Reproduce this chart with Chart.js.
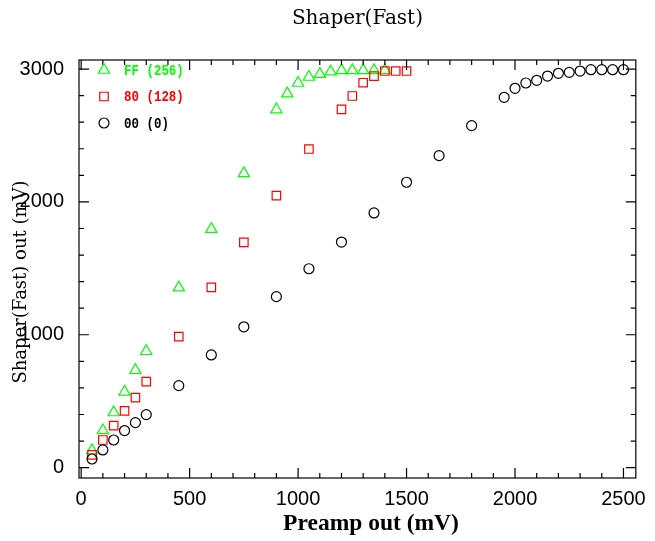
<!DOCTYPE html>
<html>
<head>
<meta charset="utf-8">
<script src="https://cdn.jsdelivr.net/npm/chart.js@4"></script>
<style>
  html, body { margin: 0; padding: 0; background: #fff; }
  #wrap { width: 655px; height: 541px; }
</style>
</head>
<body>
<div id="wrap"><canvas id="c" width="655" height="541"></canvas></div>
<script>
// values
const seriesNames = ['FF (256)', '80 (128)', '00 (0)'];
const seriesColors = ['#00ff00', '#ff0000', '#000000'];

const ffX = [50, 100, 150, 200, 250, 300, 450, 600, 750, 900, 950, 1000, 1050, 1100, 1150, 1200, 1250, 1300, 1350, 1400];
const ffY = [130, 280, 415, 570, 733, 876, 1355, 1795, 2215, 2695, 2815, 2895, 2940, 2962, 2980, 2990, 2990, 2990, 2990, 2990];

const r80X = [50, 100, 150, 200, 250, 300, 450, 600, 750, 900, 1050, 1200, 1250, 1300, 1350, 1400, 1450, 1500];
const r80Y = [96, 208, 316, 427, 527, 647, 986, 1357, 1696, 2047, 2398, 2697, 2797, 2897, 2947, 2985, 2985, 2985];

const c00X = [50, 100, 150, 200, 250, 300, 450, 600, 750, 900, 1050, 1200, 1350, 1500, 1650, 1800, 1950, 2000, 2050, 2100, 2150, 2200, 2250, 2300, 2350, 2400, 2450, 2500];
const c00Y = [65, 133, 208, 279, 339, 399, 617, 848, 1060, 1287, 1497, 1698, 1917, 2148, 2348, 2574, 2787, 2855, 2895, 2915, 2947, 2968, 2975, 2985, 2995, 2995, 2995, 2995];

const xTicks = [0, 500, 1000, 1500, 2000, 2500];
const yTicks = [0, 1000, 2000, 3000];

const toPoints = (xs, ys) => xs.map((x, i) => ({ x: x, y: ys[i] }));

// frame, inward ticks, titles and in-plot legend
const decorPlugin = {
  id: 'decor',
  afterDraw(chart) {
    const ctx = chart.ctx;
    const a = chart.chartArea;
    const xs = chart.scales.x;
    const ys = chart.scales.y;
    ctx.save();
    ctx.strokeStyle = '#000';
    ctx.lineWidth = 1.2;
    ctx.strokeRect(a.left, a.top, a.right - a.left, a.bottom - a.top);

    ctx.beginPath();
    for (let v = 0; v <= 2500; v += 100) {
      const px = xs.getPixelForValue(v);
      const len = v % 500 === 0 ? 10 : 5;
      ctx.moveTo(px, a.bottom); ctx.lineTo(px, a.bottom - len);
      ctx.moveTo(px, a.top); ctx.lineTo(px, a.top + len);
    }
    for (let v = 0; v <= 3000; v += 200) {
      const py = ys.getPixelForValue(v);
      const len = v % 1000 === 0 ? 10 : 5;
      ctx.moveTo(a.left, py); ctx.lineTo(a.left + len, py);
      ctx.moveTo(a.right, py); ctx.lineTo(a.right - len, py);
    }
    ctx.stroke();

    ctx.fillStyle = '#000';
    ctx.textAlign = 'center';
    ctx.textBaseline = 'middle';
    ctx.font = '20px "DejaVu Serif"';
    ctx.fillText('Shaper(Fast)', (a.left + a.right) / 2, 19);

    ctx.font = 'bold 23.5px "Liberation Serif"';
    ctx.fillText('Preamp out (mV)', 371, 524);

    ctx.save();
    ctx.translate(21, 282);
    ctx.rotate(-Math.PI / 2);
    ctx.font = '18px "DejaVu Serif"';
    ctx.fillText('Shaper(Fast) out (mV)', 0, 0);
    ctx.restore();

    // legend
    chart.data.datasets.forEach((ds, i) => {
      const y = a.top + 10 + i * 26.5;
      ctx.strokeStyle = ds.borderColor;
      ctx.fillStyle = 'rgba(0,0,0,0)';
      ctx.lineWidth = 1.2;
      Chart.helpers.drawPoint(ctx, {
        pointStyle: ds.pointStyle,
        radius: ds.pointRadius,
        borderWidth: 1.2
      }, a.left + 25, y);
      ctx.save();
      ctx.translate(a.left + 45, y + 1);
      ctx.scale(0.89, 1);
      ctx.fillStyle = ds.borderColor;
      ctx.textAlign = 'left';
      ctx.font = 'bold 14px "Liberation Mono"';
      ctx.fillText(seriesNames[i], 0, 0);
      ctx.restore();
    });
    ctx.restore();
  }
};

const shapes = ['triangle', 'rect', 'circle'];
const radii = [6.5, 6, 5];
const xsAll = [ffX, r80X, c00X];
const ysAll = [ffY, r80Y, c00Y];

const datasets = seriesNames.map((name, i) => ({
  label: name,
  data: toPoints(xsAll[i], ysAll[i]),
  showLine: false,
  pointStyle: shapes[i],
  pointRadius: radii[i],
  pointBorderWidth: 1.2,
  borderColor: seriesColors[i],
  backgroundColor: 'rgba(0,0,0,0)',
  pointBackgroundColor: 'rgba(0,0,0,0)',
  order: 3 - i
}));

new Chart(document.getElementById('c'), {
  type: 'scatter',
  data: { datasets: datasets },
  options: {
    responsive: false,
    animation: false,
    layout: { padding: { top: 60, right: 13, left: 0, bottom: 0 } },
    plugins: {
      legend: { display: false },
      title: { display: false },
      tooltip: { enabled: false }
    },
    scales: {
      x: {
        type: 'linear',
        min: -10,
        max: 2557,
        grid: { display: false, drawTicks: false, tickLength: 0 },
        border: { display: false },
        afterBuildTicks: (s) => { s.ticks = xTicks.map(v => ({ value: v })); },
        afterFit: (s) => { s.height = 63; },
        ticks: {
          padding: 9,
          color: '#000',
          maxRotation: 0,
          callback: (v) => String(v),
          font: { family: '"Liberation Sans"', size: 20 }
        }
      },
      y: {
        type: 'linear',
        min: -78,
        max: 3068,
        grid: { display: false, drawTicks: false, tickLength: 0 },
        border: { display: false },
        afterBuildTicks: (s) => { s.ticks = yTicks.map(v => ({ value: v })); },
        afterFit: (s) => { s.width = 79; },
        ticks: {
          padding: 15,
          color: '#000',
          callback: (v) => String(v),
          font: { family: '"Liberation Sans"', size: 20 }
        }
      }
    }
  },
  plugins: [decorPlugin]
});
</script>
</body>
</html>
